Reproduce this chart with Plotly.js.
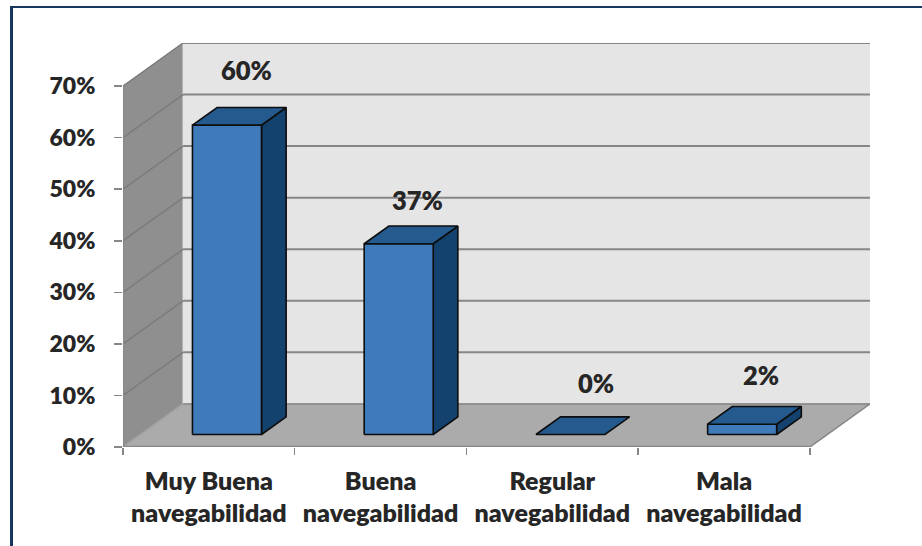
<!DOCTYPE html>
<html>
<head>
<meta charset="utf-8">
<script src="https://cdn.plot.ly/plotly-3.0.1.min.js"></script>
<style>
  html, body { margin: 0; padding: 0; background: #fff; overflow: hidden; }
  #frame { position: absolute; left: 10px; top: 6px; right: -5px; bottom: -5px;
           border-top: 2px solid #17375e; border-left: 3px solid #17375e; }
  #chart { position: absolute; left: 0; top: 0; width: 922px; height: 546px; }
</style>
</head>
<body>
<div id="frame"></div>
<div id="chart"></div>
<script>
// Survey results: perceived navigability of the site
const qualifiers = ['Muy Buena', 'Buena', 'Regular', 'Mala'];
const noun = ['navegabilidad', 'navegabilidad', 'navegabilidad', 'navegabilidad'];
const values = [60, 37, 0, 2];
const yTicks = [0, 10, 20, 30, 40, 50, 60, 70];

// Fake-3D oblique projection, expressed in axis units
const DX = 0.35;          // category units added from front to back
const DY = 8.36;          // percentage points added from front to back
const yMax = 70;
const barLeft = 0.303, barRight = 0.705;
const barNear = 0.29, barFar = 0.70;

const px = (c, d) => c + DX * d;
const py = (v, d) => v + DY * d;

// Build an x/y path from [category, value, depth] vertices
function path(verts) {
  return { x: verts.map(p => px(p[0], p[2])), y: verts.map(p => py(p[1], p[2])) };
}
function join(paths) {
  const x = [], y = [];
  paths.forEach(p => { x.push(...p.x, null); y.push(...p.y, null); });
  return { x, y };
}
function face(p, fill, line, width) {
  return { type: 'scatter', mode: 'lines', x: p.x, y: p.y, fill: 'toself', fillcolor: fill,
           line: { color: line, width: width }, hoverinfo: 'skip', cliponaxis: false, showlegend: false };
}
function stroke(p, color, width) {
  return { type: 'scatter', mode: 'lines', x: p.x, y: p.y,
           line: { color: color, width: width }, hoverinfo: 'skip', cliponaxis: false, showlegend: false };
}

const n = values.length;
const traces = [];

// Walls and floor
traces.push(face(path([[0,0,0],[0,yMax,0],[0,yMax,1],[0,0,1],[0,0,0]]), '#8f8f8f', '#9c9c9c', 1));
traces.push(face(path([[0,0,1],[0,yMax,1],[n,yMax,1],[n,0,1],[0,0,1]]), '#e5e5e5', '#e5e5e5', 1));
traces.push(face(path([[0,0,0],[n,0,0],[n,0,1],[0,0,1],[0,0,0]]), '#ababab', '#ababab', 1));

// Gridlines folding from the side wall onto the back wall
const gridTicks = yTicks.filter(v => v > 0);
traces.push(stroke(join(gridTicks.map(v => path([[0,v,0],[0,v,1]]))), '#7c7c7c', 1.5));
traces.push(stroke(join(gridTicks.map(v => path([[0,v,1],[n,v,1]]))), '#868686', 2));
traces.push(stroke(path([[0,0,1],[n,0,1],[n,0,0]]), '#868686', 1.5));
traces.push(stroke(path([[0,0,0],[0,0,1]]), '#a2a2a2', 1.5));
traces.push(stroke(path([[0,0,0],[0,yMax,0]]), '#868686', 1.5));
traces.push(stroke(path([[0,0,0],[n,0,0]]), '#868686', 2.5));

// Bars: top, side and front faces of each box
const tops = values.map((v, i) => path([[i+barLeft,v,barNear],[i+barRight,v,barNear],[i+barRight,v,barFar],[i+barLeft,v,barFar],[i+barLeft,v,barNear]]));
const sides = values.map((v, i) => path([[i+barRight,0,barNear],[i+barRight,v,barNear],[i+barRight,v,barFar],[i+barRight,0,barFar],[i+barRight,0,barNear]]));
const fronts = values.map((v, i) => path([[i+barLeft,0,barNear],[i+barRight,0,barNear],[i+barRight,v,barNear],[i+barLeft,v,barNear],[i+barLeft,0,barNear]]));
const outline = '#0d0d0d';
traces.push(face(join(sides.filter((_, i) => values[i] > 0)), '#14426e', outline, 1.6));
traces.push(face(join(fronts.filter((_, i) => values[i] > 0)), '#3f7aba', outline, 1.6));
traces.push(face(join(tops), '#255a8f', outline, 1.6));

// Second category-label line lives on an overlaid axis
traces.push({ type: 'scatter', mode: 'none', x: [0, n], y: [0, 0], xaxis: 'x2', hoverinfo: 'skip', showlegend: false });

// Value labels sit above each box, nudged the way they were placed by hand
const labelShiftX = [8, 7, 14, 6.5];
const labelShiftY = [37, 26, 34, 32];
const labelFont = { family: 'Lato', size: 25.5, weight: 800, color: '#262626' };
const annotations = values.map((v, i) => ({
  xref: 'x', yref: 'y', x: px(i + 0.5, 0.5), y: py(v, barFar),
  text: v + '%', showarrow: false, xanchor: 'center', yanchor: 'middle',
  xshift: labelShiftX[i], yshift: labelShiftY[i], font: labelFont
}));

const catCenters = qualifiers.map((_, i) => i + 0.5);
const xRange = [0, n + DX];
const catFont = { family: 'Lato', size: 25, weight: 800, color: '#262626' };
const valFont = { family: 'Lato', size: 23, weight: 800, color: '#262626' };

const layout = {
  width: 922, height: 546,
  margin: { l: 123, r: 52, t: 43, b: 99, pad: 0 },
  paper_bgcolor: 'rgba(0,0,0,0)', plot_bgcolor: 'rgba(0,0,0,0)',
  showlegend: false,
  annotations,
  xaxis: {
    range: xRange, showgrid: false, zeroline: false, showline: false,
    tickmode: 'array', tickvals: catCenters, ticktext: qualifiers, ticks: '',
    ticklabelstandoff: 17, tickfont: catFont,
    minor: { tickmode: 'linear', tick0: 0, dtick: 1, ticks: 'outside', ticklen: 7, tickwidth: 1.5, tickcolor: '#868686', showgrid: false }
  },
  xaxis2: {
    overlaying: 'x', anchor: 'y', side: 'bottom', range: xRange,
    showgrid: false, zeroline: false, showline: false,
    tickmode: 'array', tickvals: catCenters, ticktext: noun, ticks: '',
    ticklabelstandoff: 49, tickfont: catFont
  },
  yaxis: {
    range: [0, yMax + DY], showgrid: false, zeroline: false, showline: false,
    tickmode: 'array', tickvals: yTicks, ticktext: yTicks.map(v => v + '%'),
    ticks: 'outside', ticklen: 8, tickwidth: 1.5, tickcolor: '#868686',
    ticklabelstandoff: 14, tickfont: valFont
  }
};

Plotly.newPlot('chart', traces, layout, { displayModeBar: false, staticPlot: true });
</script>
</body>
</html>
